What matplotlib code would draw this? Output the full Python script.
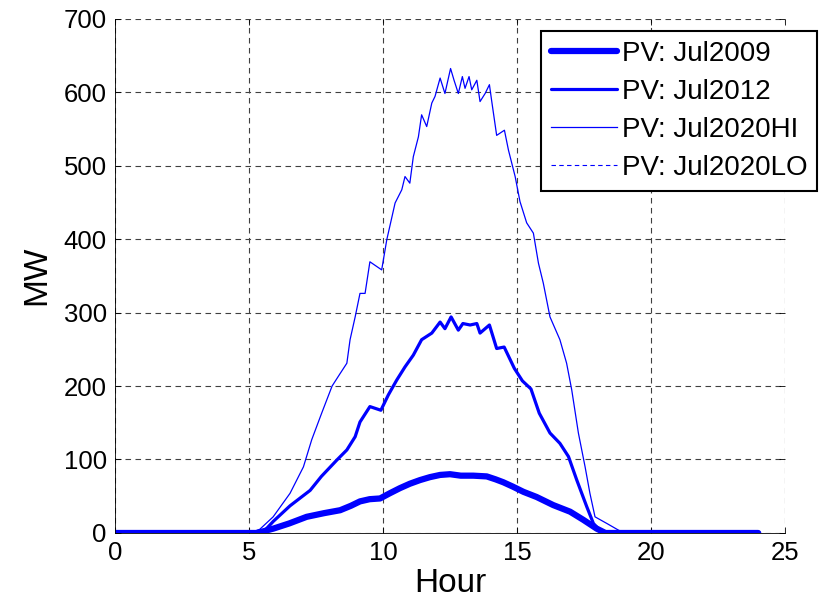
import matplotlib
matplotlib.use('Agg')
import matplotlib.pyplot as plt

# PV output in MW (hour, value pairs)
hours_2009 = [0, 5.3, 5.91, 6.5, 7.15, 7.8, 8.4, 8.8, 9.14, 9.5, 9.89, 10.25,
              10.63, 11.0, 11.38, 11.75, 12.13, 12.5, 12.9, 13.37, 13.87, 14.2,
              14.49, 14.85, 15.24, 15.73, 16.35, 16.98, 17.47, 17.97, 18.3, 24]
pv_2009 = [0, 0, 6, 13, 22, 27, 31, 37, 43, 46, 47, 54,
           61, 67, 72, 76, 79, 80, 78, 78, 77, 73,
           69, 63, 56, 49, 38, 29, 18, 6, 0, 0]

hours_2012 = [0, 5.5, 5.91, 6.53, 7.28, 7.7, 8.27, 8.65, 8.96, 9.14, 9.51, 9.92,
              10.2, 10.51, 10.82, 11.13, 11.44, 11.82, 12.13, 12.31, 12.54, 12.81,
              12.98, 13.25, 13.5, 13.62, 13.97, 14.24, 14.52, 14.9, 15.2, 15.52,
              15.83, 16.23, 16.6, 16.92, 17.23, 17.6, 17.85, 18.1, 18.5, 24]
pv_2012 = [0, 0, 16, 37, 58, 77, 99, 113, 131, 151, 172, 167,
           188, 208, 226, 242, 263, 272, 287, 278, 294, 276,
           285, 283, 285, 272, 283, 251, 253, 224, 207, 196,
           163, 136, 122, 104, 72, 36, 13, 3, 0, 0]

hours_2020hi = [0, 5.0, 5.4, 5.9, 6.53, 7.03, 7.34, 7.71, 8.1, 8.4, 8.65, 8.77,
                8.96, 9.14, 9.33, 9.51, 9.95, 10.14, 10.45, 10.7, 10.82, 11.0,
                11.13, 11.32, 11.44, 11.63, 11.82, 11.94, 12.13, 12.31, 12.52, 12.65,
                12.81, 12.96, 13.06, 13.21, 13.31, 13.5, 13.62, 13.81, 13.97, 14.05,
                14.24, 14.53, 14.68, 14.93, 15.11, 15.36, 15.61, 15.8, 15.98, 16.23,
                16.6, 16.85, 17.04, 17.29, 17.54, 17.72, 17.91, 18.35, 18.78, 19.0,
                24]
pv_2020hi = [0, 0, 5, 22, 54, 90, 127, 163, 200, 217, 231, 263,
             294, 326, 326, 369, 358, 399, 449, 467, 485, 476,
             512, 539, 569, 553, 585, 594, 619, 598, 632, 616,
             598, 621, 605, 621, 603, 616, 587, 598, 610, 589,
             541, 548, 521, 485, 451, 422, 408, 367, 340, 294,
             263, 231, 195, 136, 90, 54, 22, 13, 4, 0,
             0]

# Jul2020LO is in the legend but its line cannot be seen in the picture
hours_2020lo = []
pv_2020lo = []

labels = ['PV: Jul2009', 'PV: Jul2012', 'PV: Jul2020HI', 'PV: Jul2020LO']

plt.rcParams['font.family'] = ['Liberation Sans', 'DejaVu Sans']

fig = plt.figure(figsize=(8.3, 6.09), dpi=100)
ax = fig.add_axes([0.1386, 0.1248, 0.8072, 0.8448])

ax.plot(hours_2009, pv_2009, color='#0000ff', lw=4.5, solid_capstyle='round',
        solid_joinstyle='round', label=labels[0])
ax.plot(hours_2012, pv_2012, color='#0000ff', lw=2.3, solid_capstyle='round',
        label=labels[1])
ax.plot(hours_2020hi, pv_2020hi, color='#0000ff', lw=0.9, label=labels[2])
ax.plot(hours_2020lo, pv_2020lo, color='#0000ff', lw=0.8, ls=(0, (4, 3)),
        label=labels[3])

ax.set_xlim(0, 25)
ax.set_ylim(0, 700)
ax.set_xticks(range(0, 26, 5))
ax.set_yticks(range(0, 701, 100))
ax.grid(True, color='0.25', ls=(0, (5, 4)), lw=0.8)
ax.set_axisbelow(True)
ax.tick_params(direction='in', length=4, width=0.6, top=True, right=True,
               labelsize=18.5, pad=6)
ax.spines[['top', 'right']].set_visible(False)
for s in ['left', 'bottom']:
    ax.spines[s].set_linewidth(0.6)

ax.set_xlabel('Hour', fontsize=24, labelpad=2)
ax.set_ylabel('MW', fontsize=24, labelpad=8)

leg = ax.legend(loc='upper left', bbox_to_anchor=(541 / 830, 1 - 31 / 609),
                bbox_transform=fig.transFigure, fontsize=20, handlelength=2.37,
                labelspacing=0.43, borderpad=0.36, handletextpad=0.18,
                fancybox=False, framealpha=1, borderaxespad=0)
leg.get_frame().set_edgecolor('black')
leg.get_frame().set_linewidth(1.5)

fig.savefig('out.png', dpi=100)
